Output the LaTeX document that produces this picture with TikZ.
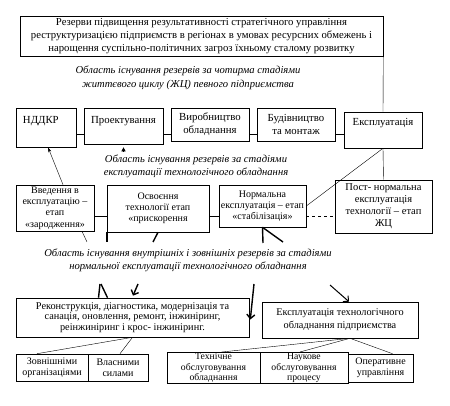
\documentclass[tikz,border=0pt]{standalone}
\usepackage{fontspec}
\setmainfont{Liberation Serif}
\usetikzlibrary{arrows.meta}

\begin{document}
\begin{tikzpicture}
[x=1pt,y=-1pt,
 box/.style={draw,line width=.6pt,inner sep=1pt,align=center,font=\fontsize{10}{11.2}\selectfont},
 row/.style={box,font=\fontsize{10.8}{13}\selectfont},
 lbl/.style={align=center,inner sep=0pt,font=\fontsize{10.6}{13.5}\selectfont\itshape},
 thk/.style={line width=1.4pt}]
\useasboundingbox (0,0) rectangle (450,406);
\node[box,minimum width=363pt,minimum height=40pt,font=\fontsize{10.7}{13}\selectfont] (goal) at (201.5,36) {Резерви підвищення результативності стратегічного управління\\реструктуризацією підприємств в регіонах в умовах ресурсних обмежень і\\нарощення суспільно-політичних загроз їхньому сталому розвитку};
\node[lbl] (lblzhc) at (188,78) {Область існування резервів за чотирма стадіями\\життєвого циклу (ЖЦ) певного підприємства};
\node[row,minimum width=60pt,text width=46pt,align=left,text height=14.5pt,text depth=22.5pt] (nddkr) at (46,127.5) {НДДКР};
\node[row,minimum width=79pt,text height=14.5pt,text depth=19.5pt] (proekt) at (123.5,126) {Проектування};
\node[row,minimum width=78pt,minimum height=33pt] (vyrob) at (210,124.5) {Виробництво\\обладнання};
\node[row,minimum width=78pt,minimum height=33pt] (budiv) at (296,124.5) {Будівництво\\та монтаж};
\node[row,minimum width=78pt,text height=12.5pt,text depth=21.5pt] (ekspl) at (383,130) {Експлуатація};
\node[lbl] (lblto) at (196,166.5) {Область існування резервів за стадіями\\експлуатації технологічного обладнання};
\node[box,minimum width=78pt,minimum height=46pt] (vved) at (55,208) {Введення в\\експлуатацію –\\етап\\«зародження»};
\node[box,minimum width=102pt,minimum height=47pt] (osvo) at (158,208.5) {Освоєння\\технології етап\\«прискорення};
\node[box,minimum width=87pt,minimum height=42pt] (norm) at (262.5,206) {Нормальна\\експлуатація – етап\\«стабілізація»};
\node[box,minimum width=97pt,minimum height=53pt,font=\fontsize{10.5}{12}\selectfont] (post) at (383.5,206.5) {Пост- нормальна\\експлуатація\\технології – етап\\ЖЦ};
\node[lbl] (lblnorm) at (188,260.5) {Область існування внутрішніх і зовнішніх резервів за стадіями\\нормальної експлуатації технологічного обладнання};
\node[box,minimum width=233pt,minimum height=39pt,font=\fontsize{10.3}{10.8}\selectfont] (rekon) at (132.5,317.5) {Реконструкція, діагностика, модернізація та\\санація, оновлення, ремонт, інжиніринг,\\реінжиніринг і крос- інжиніринг.};
\node[box,minimum width=156pt,minimum height=36pt,font=\fontsize{10.3}{13}\selectfont] (ektop) at (340,320) {Експлуатація технологічного\\обладнання підприємства};
\node[box,minimum width=72pt,minimum height=27pt] (zovn) at (52,367.5) {Зовнішніми\\організаціями};
\node[box,minimum width=60pt,minimum height=27pt] (vlasn) at (118,367.5) {Власними\\силами};
\node[box,minimum width=93pt,minimum height=28pt,font=\fontsize{9.7}{10.5}\selectfont] (tekhn) at (213.5,368) {Технічне\\обслуговування\\обладнання};
\node[box,minimum width=88pt,minimum height=28pt,font=\fontsize{9.7}{10.5}\selectfont] (nauk) at (304,368) {Наукове\\обслуговування\\процесу};
\node[box,minimum width=65pt,minimum height=28pt] (oper) at (380.5,368) {Оперативне\\управління};
\foreach \from/\to in {nddkr/proekt,proekt/vyrob,vyrob/budiv,budiv/ekspl}
\draw (\from.east |- 0,134) -- (\to.west |- 0,134);
\foreach \from/\to in {vved/osvo,osvo/norm}
\draw (\from.east |- 0,216) -- (\to.west |- 0,216);
\draw[dashed] (norm.east |- 0,216) -- (post.west |- 0,216);
\draw (goal.south east) -- (ekspl.north);
\draw (ekspl.south) -- (post.north);
\draw (ekspl.south) -- (norm.east);
\draw[-{Stealth[length=5pt,width=3pt]}] ([xshift=8pt]vved.north) -- ([xshift=2pt]nddkr.south);
\coordinate (p1) at (123.5,152);
\draw[-{Triangle[length=4pt,width=4pt]}] (p1) -- ([yshift=-3pt]proekt.south);
% pointers under the second row
\coordinate (a1) at (87,242);
\coordinate (a2) at (107,242);
\coordinate (a3) at (153,242);
\coordinate (a4) at (263,243);
\coordinate (a5) at (283,242);
\draw ([xshift=27pt]vved.south) -- (a1);
\draw[thk] ([xshift=-51pt]osvo.south) -- (a2);
\draw[thk] ([xshift=0pt]osvo.south) -- (a3);
\draw[thk] (norm.south) -- (a4);
\draw[thk] (norm.south) -- (a5);
% pointers to the lower boxes
\coordinate (b1) at (100,284);
\coordinate (b2) at (138,284);
\coordinate (b3) at (254,284);
\coordinate (b4) at (330,285);
\draw[thk] (b1) -- ([xshift=-34pt]rekon.north);
\draw[thk] ([xshift=1pt]b1) -- ([xshift=-25pt]rekon.north);
\draw[thk,-{Straight Barb[length=4pt]}] (b2) -- ([xshift=0.5pt,yshift=2pt]rekon.north);
\draw[thk,-{Straight Barb[length=4pt]}] (b3) -- ([xshift=1pt,yshift=-2pt]rekon.east);
\draw[line width=1pt,-{Straight Barb[length=4pt]}] (b4) -- ([xshift=9pt]ektop.north);
\foreach \to/\dx in {zovn/-15,vlasn/2}
\draw (rekon.south) -- ([xshift=\dx pt]\to.north);
\foreach \to/\dx in {tekhn/8,nauk/-4,oper/12}
\draw ([xshift=10pt]ektop.south) -- ([xshift=\dx pt]\to.north);
\end{tikzpicture}
\end{document}
